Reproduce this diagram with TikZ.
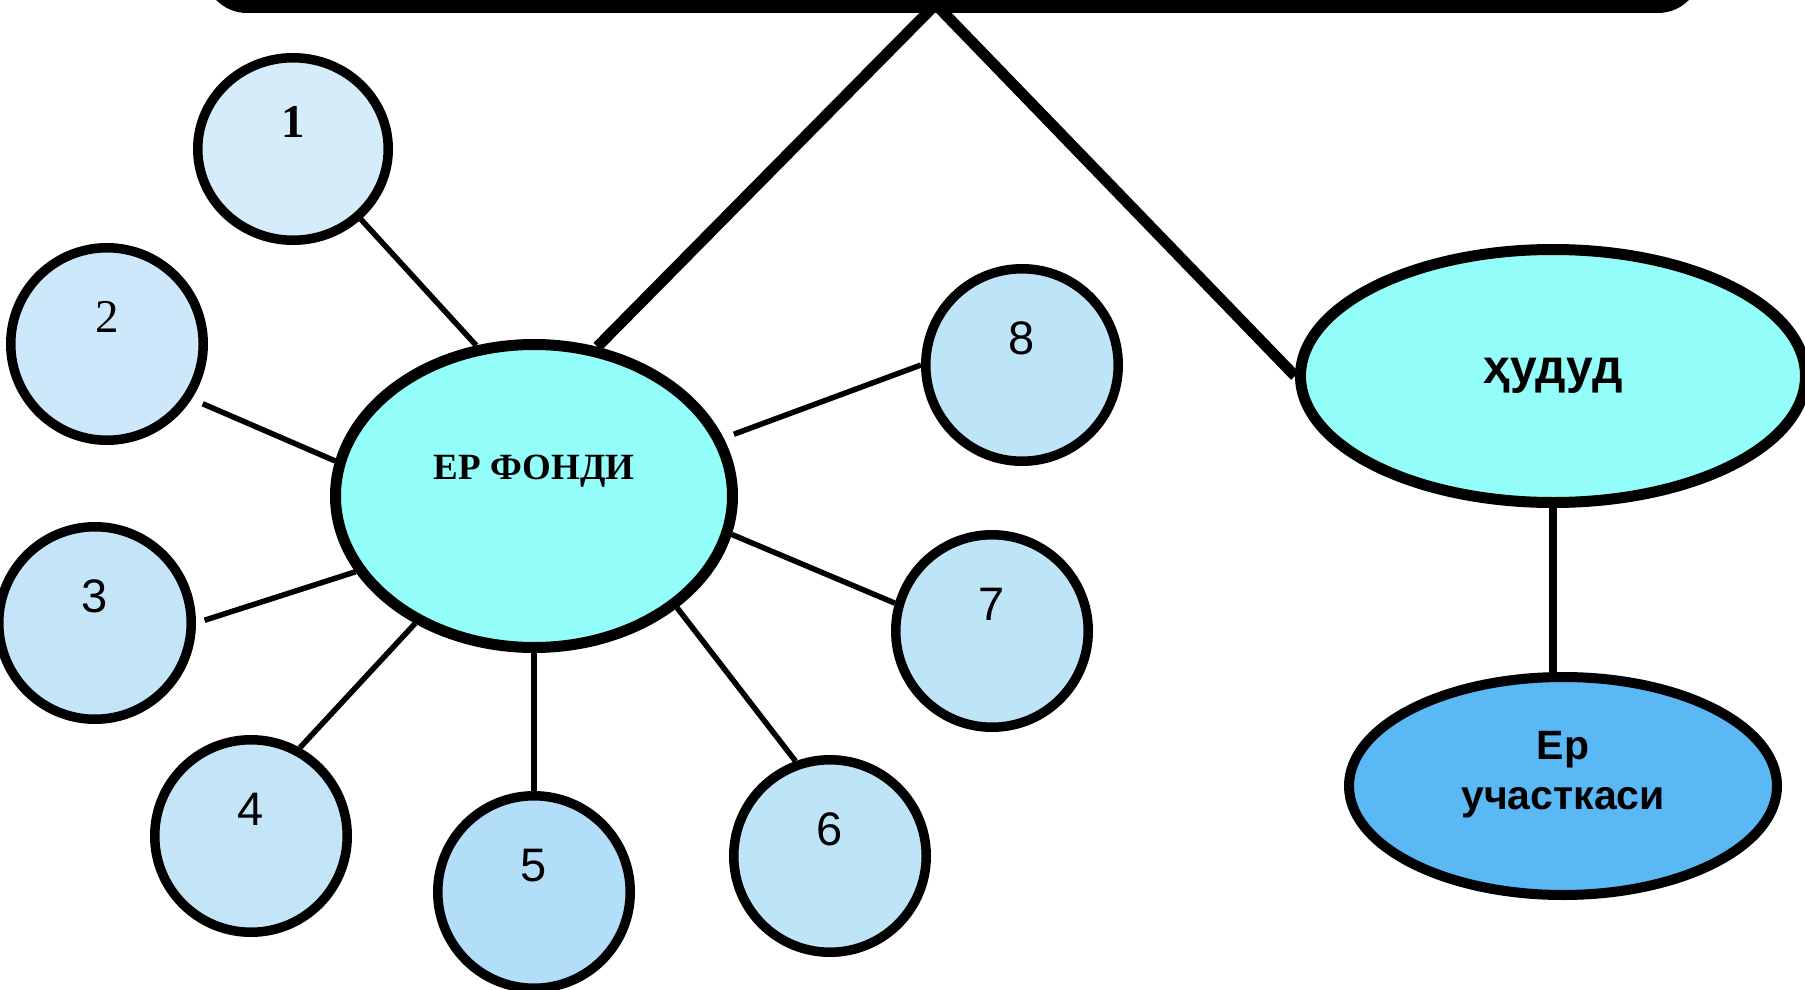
\documentclass[tikz,border=0pt]{standalone}
\usepackage{fontspec}
\setmainfont{Liberation Serif}
\newfontfamily\arialf{Liberation Sans}
\usetikzlibrary{shapes.geometric}
\definecolor{cyanfill}{RGB}{147,253,249}
\definecolor{bluefill}{RGB}{90,184,245}
\definecolor{cA}{RGB}{213,236,250}
\definecolor{cB}{RGB}{204,232,250}
\definecolor{cC}{RGB}{196,228,248}
\definecolor{cD}{RGB}{178,222,250}
\definecolor{cE}{RGB}{190,228,248}
\tikzset{
  numc/.style={ellipse, draw=black, line width=9.5pt, minimum width=192.5pt,
    minimum height=192.5pt, inner sep=0pt, text depth=54pt,
    font=\arialf\fontsize{47pt}{56pt}\selectfont},
  bigell/.style={ellipse, draw=black, line width=11pt, inner sep=0pt, fill=cyanfill},
  thinline/.style={line width=5.5pt},
  thickline/.style={line width=11pt},
}
\begin{document}
\begin{tikzpicture}[x=1pt,y=-1pt]
\useasboundingbox (0,0) rectangle (1805,990);
\clip (0,0) rectangle (1805,990);

% top bar
\node[rectangle, rounded corners=43pt, fill=black, draw=none, inner sep=0pt, outer sep=0pt,
  minimum width=1497pt, minimum height=100pt, anchor=south] (top) at (952.5,13) {};

% central ellipse
\node[bigell, minimum width=397pt, minimum height=303pt, text depth=58pt,
  font=\rmfamily\bfseries\fontsize{37pt}{44pt}\selectfont] (ef) at (534,496) {ЕР ФОНДИ};

% hudud
\node[bigell, minimum width=505pt, minimum height=253pt,
  font=\arialf\bfseries\fontsize{48pt}{58pt}\selectfont] (hud) at (1553,376) {ҳудуд};

% er uchastkasi
\node[ellipse, draw=black, line width=10pt, fill=bluefill, inner sep=0pt,
  minimum width=428pt, minimum height=218pt,
  label={[name=eptext, align=center, yshift=11pt,
    font=\arialf\bfseries\fontsize{41pt}{50pt}\selectfont]center:Ер\\участкаси}] (ep) at (1563,786) {};

% numbered circles
\node[numc, fill=cA, minimum width=190.5pt, minimum height=182.5pt,
  font=\rmfamily\bfseries\fontsize{47pt}{56pt}\selectfont] (c1) at (293,149) {1};
\node[numc, fill=cB, font=\rmfamily\fontsize{47pt}{56pt}\selectfont] (c2) at (107,344) {2};
\node[numc, fill=cC] (c3) at (95,623) {3};
\node[numc, fill=cC] (c4) at (251,836) {4};
\node[numc, fill=cD] (c5) at (534,892) {5};
\node[numc, fill=cE] (c6) at (830,856) {6};
\node[numc, fill=cE] (c7) at (992,631) {7};
\node[numc, fill=cE] (c8) at (1022,365) {8};

% thin connectors
\draw[thinline] (c1.-46) -- (ef.111);
\draw[thinline, shorten <=12pt] (c2.-33) -- (ef.170.4);
\draw[thinline, shorten <=9pt] (c3.0) -- (ef.203);
\draw[thinline] (c4.61) -- (ef.227.6);
\draw[thinline] (ef.south) -- (c5.north);
\draw[thinline] (ef.-38.4) -- (c6.110.8);
\draw[thinline] (ef.-11) -- (c7.164.3);
\draw[thinline, shorten <=11pt] (ef.17.2) -- (c8.180);

% thick connectors from the top bar
\draw[thickline, shorten <=-8pt] ([xshift=-25.5pt]top.south) -- (ef.67.9);
\draw[thickline, shorten <=-8pt] ([xshift=-8.5pt]top.south) -- (hud.west);
\draw[line width=8pt] (hud.south) -- (hud.south |- ep.north);
\end{tikzpicture}
\end{document}
